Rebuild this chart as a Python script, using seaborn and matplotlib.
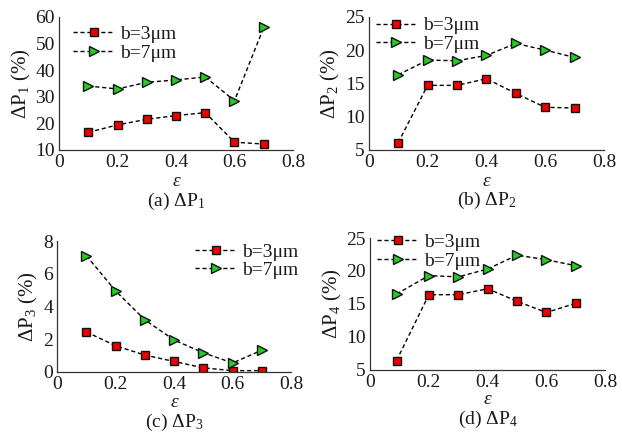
import numpy as np
import pandas as pd
import matplotlib
matplotlib.use("Agg")
import matplotlib.pyplot as plt
import seaborn as sns

sns.set_style("white")
plt.rcParams['font.family'] = ['Liberation Serif', 'DejaVu Serif']
plt.rcParams['mathtext.fontset'] = 'custom'
plt.rcParams['mathtext.rm'] = 'Liberation Serif'
plt.rcParams['mathtext.it'] = 'Liberation Serif:italic'
plt.rcParams['font.size'] = 14

# data
eps = [0.1, 0.2, 0.3, 0.4, 0.5, 0.6, 0.7]
eps_d = [0.09, 0.2, 0.3, 0.4, 0.5, 0.6, 0.7]

p1_b3 = [16.6, 19.4, 21.5, 22.9, 24.0, 12.9, 12.2]
p1_b7 = [34.0, 32.9, 35.4, 36.3, 37.4, 28.5, 56.0]
p2_b3 = [6.1, 14.7, 14.7, 15.7, 13.5, 11.4, 11.3]
p2_b7 = [16.3, 18.5, 18.4, 19.2, 21.0, 20.0, 18.9]
p3_b3 = [2.44, 1.6, 1.03, 0.64, 0.25, 0.08, 0.08]
p3_b7 = [7.1, 4.95, 3.18, 1.95, 1.17, 0.55, 1.33]
p4_b3 = [6.4, 16.4, 16.4, 17.3, 15.4, 13.7, 15.1]
p4_b7 = [16.5, 19.3, 19.1, 20.3, 22.4, 21.7, 20.8]

series_labels = ['b=3\u03bcm', 'b=7\u03bcm']
ylabels = ['\u0394P$_1$ (%)', '\u0394P$_2$ (%)', '\u0394P$_3$ (%)', '\u0394P$_4$ (%)']
captions = ['(a) \u0394P$_1$', '(b) \u0394P$_2$', '(c) \u0394P$_3$', '(d) \u0394P$_4$']
xticks = [0, 0.2, 0.4, 0.6, 0.8]
xtick_labels = ['0', '0.2', '0.4', '0.6', '0.8']
yticks_all = [[10, 20, 30, 40, 50, 60], [5, 10, 15, 20, 25], [0, 2, 4, 6, 8], [5, 10, 15, 20, 25]]

panels = [
    (eps, p1_b3, p1_b7),
    (eps, p2_b3, p2_b7),
    (eps, p3_b3, p3_b7),
    (eps_d, p4_b3, p4_b7),
]

# layout (figure fractions) and text offsets per panel
rects = [[0.095, 0.653, 0.376, 0.308],
         [0.593, 0.653, 0.378, 0.308],
         [0.092, 0.139, 0.376, 0.303],
         [0.595, 0.144, 0.378, 0.305]]
eps_y = [-0.24, -0.235, -0.235, -0.228]
cap_y = [-0.39, -0.38, -0.385, -0.378]
leg_loc = ['upper left', 'upper left', 'upper right', 'upper left']
leg_anchor = [(0.06, 0.935), (0.03, 1.0), (1.03, 0.985), (0.03, 1.035)]

txt = '#1a1a1a'
fig = plt.figure(figsize=(6.22, 4.32), dpi=100)
for i, (x, s3, s7) in enumerate(panels):
    ax = fig.add_axes(rects[i])
    df = pd.DataFrame({'eps': x, 'b3': s3, 'b7': s7})
    sns.lineplot(data=df, x='eps', y='b3', ax=ax, color='k', lw=1,
                 linestyle=(0, (3, 2)), marker='s', markersize=6,
                 markerfacecolor='#ee0000', markeredgecolor='#111111',
                 markeredgewidth=1.0, label=series_labels[0])
    sns.lineplot(data=df, x='eps', y='b7', ax=ax, color='k', lw=1,
                 linestyle=(0, (3, 2)), marker='>', markersize=7,
                 markerfacecolor='#22cc22', markeredgecolor='#111111',
                 markeredgewidth=1.0, label=series_labels[1])
    yt = yticks_all[i]
    ax.set_xlim(0, 0.8)
    ax.set_ylim(yt[0], yt[-1])
    ax.set_xticks(xticks, xtick_labels)
    ax.set_yticks(yt)
    ax.tick_params(direction='in', length=3, width=0.8, colors='#333333',
                   labelcolor=txt, labelsize=14, pad=3)
    sns.despine(ax=ax)
    for sp in ['left', 'bottom']:
        ax.spines[sp].set_color('#333333')
        ax.spines[sp].set_linewidth(0.9)
    ax.set_xlabel('')
    ax.set_ylabel(ylabels[i], color=txt, fontsize=15, labelpad=2)
    ax.text(0.5, eps_y[i], '\u03b5', transform=ax.transAxes, ha='center',
            va='center', fontstyle='italic', fontsize=14, color=txt)
    ax.text(0.5, cap_y[i], captions[i], transform=ax.transAxes, ha='center',
            va='center', fontsize=14, color=txt)
    ax.legend(loc=leg_loc[i], bbox_to_anchor=leg_anchor[i], frameon=False,
              borderpad=0, borderaxespad=0, labelspacing=0.05,
              handlelength=2.1, handletextpad=0.3, fontsize=14,
              labelcolor=txt)

fig.savefig('out.png', dpi=100)
